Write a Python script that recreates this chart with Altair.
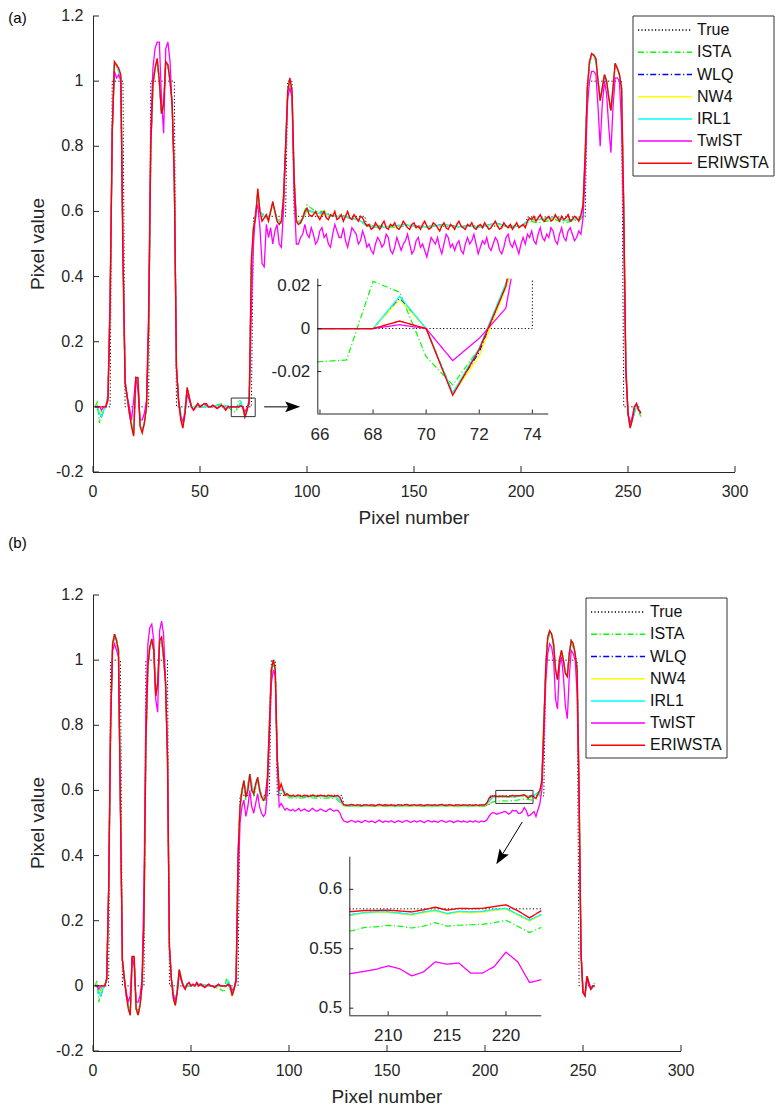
import altair as alt
import pandas as pd

FONT = "Liberation Sans"
AX = "#262626"

SERIES = ["True", "ISTA", "WLQ", "NW4", "IRL1", "TwIST", "ERIWSTA"]
COLORS = ["#000000", "#00ff00", "#0000ff", "#ffff00", "#00ffff", "#ff00ff", "#ff0000"]
DASHES = [[1.2, 2.2], [6, 2.5, 1.2, 2.5], [6, 2.5, 1.2, 2.5], [1, 0], [1, 0], [1, 0], [1, 0]]
WIDTHS = [1, 1.2, 1.2, 1.3, 1.3, 1.3, 1.4]

X_TICKS = [0, 50, 100, 150, 200, 250, 300]
X_TICK_LABELS = ["0", "50", "100", "150", "200", "250", "300"]
Y_TICKS = [-0.2, 0, 0.2, 0.4, 0.6, 0.8, 1, 1.2]
Y_TICK_LABELS = ["-0.2", "0", "0.2", "0.4", "0.6", "0.8", "1", "1.2"]
IA_XTICKS = [66, 68, 70, 72, 74]
IA_XLABELS = ["66", "68", "70", "72", "74"]
IA_YTICKS = [-0.02, 0, 0.02]
IA_YLABELS = ["-0.02", "0", "0.02"]
IB_XTICKS = [210, 215, 220]
IB_XLABELS = ["210", "215", "220"]
IB_YTICKS = [0.5, 0.55, 0.6]
IB_YLABELS = ["0.5", "0.55", "0.6"]
PANEL_LABELS = ["(a)", "(b)"]
X_TITLE = "Pixel number"
Y_TITLE = "Pixel value"

PIX = list(range(1, 257))
XS = [1, 2, 3, 4, 5, 6, 7, 8, 9, 10,
      11, 12, 13, 14, 15, 17, 19, 20, 21, 22,
      23, 24, 25, 26, 27, 28, 29, 30, 31, 32,
      33, 34, 35, 36, 37, 38, 39, 40, 42, 44,
      46, 50, 55, 60, 65, 66, 67, 68, 69, 70,
      71, 72, 73, 74, 75, 76, 77, 78, 80, 82,
      84, 86, 88, 89, 90, 91, 92, 93, 94, 95,
      97, 100, 104, 108, 112, 116, 120, 124, 128, 134,
      140, 146, 152, 158, 164, 170, 176, 182, 188, 194,
      200, 204, 208, 212, 216, 220, 224, 228, 229, 230,
      231, 232, 233, 234, 235, 236, 237, 238, 239, 240,
      241, 242, 243, 244, 245, 246, 247, 248, 249, 250,
      251, 252, 254, 256]

TRUE_X = [1, 8, 9, 14, 15, 26, 27, 38, 39, 74, 75, 90, 91, 93, 94, 127, 128, 202, 203, 230, 231, 247, 248, 256]
TRUE_Y = [0, 0, 1, 1, 0, 0, 1, 1, 0, 0, 0.585, 0.585, 1, 1, 0.585, 0.585, 0.555, 0.555, 0.583, 0.583, 1, 1, 0, 0]

# ---------------- panel (a) ----------------
ERIWSTA_A = [
    0, 0, 0, 0, 0, 0, 0.02, 0.30, 0.85, 1.06,
    1.05, 1.04, 1.02, 0.45, 0.07, 0.03, -0.02, -0.06, -0.09, 0.09,
    0.09, -0.06, -0.08, -0.05, 0.0, 0.25, 0.8, 0.99, 1.04, 1.07,
    1.0, 0.9, 0.93, 1.06, 1.05, 1.0, 0.93, 0.7, 0.12, 0.02,
    -0.04, -0.065, -0.02, 0.06, 0.03, 0.0, -0.01, 0.0, 0.01, 0.0,
    0.005, 0.01, 0.01, 0.0, 0.0, 0.005, 0.0, -0.005, 0.0, 0.005,
    0.0, -0.01, 0.0, 0.0, 0.0, 0.0, 0.0, 0.0, 0.0035, 0.0,
    -0.031, -0.0097, 0.0196, 0.45, 0.55, 0.58, 0.67, 0.6, 0.57, 0.58,
    0.59, 0.57, 0.6, 0.63, 0.6, 0.57, 0.56, 0.57, 0.64, 0.8,
    0.97, 1.01, 0.97, 0.7, 0.57, 0.56, 0.565, 0.58, 0.6, 0.61,
    0.59, 0.585, 0.59, 0.6, 0.585, 0.575, 0.59, 0.6, 0.58, 0.575,
    0.59, 0.585, 0.6, 0.575, 0.58, 0.59, 0.57, 0.585, 0.6, 0.58,
    0.575, 0.59, 0.58, 0.57, 0.585, 0.58, 0.565, 0.555, 0.56, 0.545,
    0.55, 0.565, 0.555, 0.545, 0.56, 0.57, 0.55, 0.545, 0.56, 0.555,
    0.565, 0.55, 0.545, 0.555, 0.57, 0.56, 0.55, 0.545, 0.56, 0.565,
    0.55, 0.555, 0.545, 0.56, 0.57, 0.555, 0.545, 0.55, 0.565, 0.56,
    0.55, 0.54, 0.555, 0.565, 0.55, 0.545, 0.56, 0.555, 0.545, 0.56,
    0.57, 0.555, 0.55, 0.545, 0.56, 0.555, 0.565, 0.55, 0.545, 0.555,
    0.56, 0.55, 0.565, 0.555, 0.545, 0.55, 0.56, 0.57, 0.555, 0.545,
    0.55, 0.565, 0.555, 0.55, 0.56, 0.545, 0.555, 0.565, 0.55, 0.555,
    0.56, 0.55, 0.57, 0.58, 0.575, 0.585, 0.57, 0.58, 0.59, 0.575,
    0.57, 0.58, 0.585, 0.57, 0.575, 0.59, 0.58, 0.57, 0.585, 0.575,
    0.58, 0.59, 0.57, 0.575, 0.585, 0.58, 0.57, 0.59, 0.62, 0.78,
    0.98, 1.06, 1.085, 1.08, 1.07, 1.0, 0.94, 0.98, 1.02, 1.0,
    0.95, 0.91, 0.98, 1.055, 1.04, 1.02, 0.98, 0.62, 0.12, -0.02,
    -0.065, -0.04, 0.0, 0.01, -0.01, -0.02]

TWIST_A = [
    0, 0, 0, -0.01, 0, 0, 0.03, 0.35, 0.85, 1.03,
    1.01, 1.02, 1.0, 0.5, 0.08, 0.03, 0.0, -0.04, 0.02, 0.09,
    0.05, -0.04, -0.04, -0.02, 0.02, 0.3, 0.85, 1.04, 1.1, 1.12,
    1.12, 0.95, 0.84, 1.1, 1.12, 1.06, 0.92, 0.7, 0.12, 0.02,
    -0.03, -0.045, -0.02, 0.04, 0.02, 0.0, -0.01, 0.0, 0.01, 0.0,
    0.005, 0.01, 0.005, 0.0, 0.0, 0.005, 0.0, -0.005, 0.0, 0.005,
    0.0, -0.01, 0.0, 0.0, 0.0, 0.0, 0.0, 0.0, 0.0018, 0.0,
    -0.0149, -0.0045, 0.0095, 0.3, 0.5, 0.6, 0.62, 0.55, 0.44, 0.43,
    0.56, 0.52, 0.55, 0.5, 0.54, 0.56, 0.5, 0.49, 0.6, 0.78,
    0.95, 0.98, 0.95, 0.65, 0.5, 0.5, 0.52, 0.53, 0.56, 0.53,
    0.52, 0.55, 0.53, 0.5, 0.51, 0.54, 0.55, 0.52, 0.53, 0.5,
    0.49, 0.53, 0.56, 0.54, 0.52, 0.52, 0.55, 0.51, 0.49, 0.52,
    0.55, 0.54, 0.53, 0.5, 0.51, 0.54, 0.52, 0.49, 0.5, 0.48,
    0.47, 0.5, 0.52, 0.51, 0.49, 0.5, 0.53, 0.52, 0.48, 0.47,
    0.49, 0.52, 0.5, 0.48, 0.5, 0.51, 0.53, 0.5, 0.47, 0.48,
    0.51, 0.52, 0.49, 0.5, 0.48, 0.46, 0.49, 0.52, 0.51, 0.5,
    0.52, 0.49, 0.47, 0.5, 0.53, 0.52, 0.49, 0.5, 0.48, 0.5,
    0.51, 0.48, 0.47, 0.5, 0.52, 0.5, 0.51, 0.53, 0.5, 0.47,
    0.49, 0.51, 0.5, 0.52, 0.49, 0.48, 0.5, 0.52, 0.51, 0.48,
    0.47, 0.49, 0.52, 0.53, 0.5, 0.49, 0.51, 0.49, 0.47, 0.5,
    0.52, 0.5, 0.53, 0.52, 0.54, 0.51, 0.5, 0.53, 0.55, 0.52,
    0.51, 0.53, 0.52, 0.55, 0.54, 0.51, 0.5, 0.53, 0.55, 0.52,
    0.51, 0.54, 0.55, 0.53, 0.51, 0.52, 0.54, 0.53, 0.58, 0.72,
    0.92, 1.0, 1.03, 1.03, 1.02, 0.92, 0.8, 0.93, 1.0, 0.96,
    0.86, 0.78, 0.92, 1.01, 1.01, 1.0, 0.86, 0.55, 0.1, -0.02,
    -0.05, -0.03, 0.0, 0.01, -0.01, -0.015]

ISTA_A = [
    0.0, 0.015, -0.05, -0.01, 0.0, 0.0, 0.04, 0.33, 0.83, 1.05,
    1.05, 1.03, 1.01, 0.5, 0.08, -0.02, -0.08, 0.09, 0.08, -0.05,
    -0.07, -0.05, 0.0, 0.22, 0.78, 0.99, 1.04, 1.06, 1.01, 0.9,
    0.92, 1.05, 1.05, 1.0, 0.93, 0.7, 0.12, 0.02, -0.06, 0.05,
    0.0, 0.005, 0.0, 0.01, -0.01, -0.0154, -0.015, 0.022, 0.0168, -0.014,
    -0.027, -0.009, 0.02, 0.42, 0.55, 0.6, 0.66, 0.6, 0.59, 0.58,
    0.62, 0.58, 0.57, 0.63, 0.79, 0.96, 1.0, 0.97, 0.7, 0.57,
    0.57, 0.62, 0.6, 0.6, 0.585, 0.59, 0.58, 0.575, 0.56, 0.555,
    0.55, 0.56, 0.55, 0.555, 0.56, 0.55, 0.555, 0.55, 0.565, 0.55,
    0.555, 0.57, 0.565, 0.57, 0.575, 0.565, 0.57, 0.575, 0.61, 0.77,
    0.97, 1.05, 1.08, 1.075, 1.06, 1.0, 0.94, 0.98, 1.01, 1.0,
    0.95, 0.91, 0.97, 1.05, 1.04, 1.02, 0.97, 0.6, 0.12, -0.01,
    -0.06, -0.04, 0.0, -0.03]

WLQ_A = [
    0.0, 0.0, -0.02, -0.03, -0.01, 0.0, 0.04, 0.33, 0.84, 1.05,
    1.05, 1.03, 1.01, 0.48, 0.08, -0.02, -0.085, 0.09, 0.085, -0.055,
    -0.075, -0.05, 0.0, 0.23, 0.79, 0.99, 1.04, 1.065, 1.0, 0.9,
    0.925, 1.055, 1.05, 1.0, 0.93, 0.7, 0.12, 0.02, -0.06, 0.055,
    0.0, 0.0, 0.0, 0.005, 0.0, 0.0, 0.0, 0.0, 0.014, 0.0,
    -0.03, -0.011, 0.02, 0.43, 0.55, 0.59, 0.66, 0.6, 0.585, 0.575,
    0.625, 0.575, 0.565, 0.64, 0.8, 0.97, 1.0, 0.97, 0.7, 0.57,
    0.565, 0.605, 0.595, 0.595, 0.585, 0.585, 0.58, 0.575, 0.555, 0.55,
    0.555, 0.56, 0.552, 0.553, 0.56, 0.553, 0.555, 0.552, 0.565, 0.553,
    0.555, 0.575, 0.575, 0.578, 0.582, 0.572, 0.575, 0.58, 0.615, 0.775,
    0.975, 1.055, 1.08, 1.08, 1.065, 1.0, 0.94, 0.98, 1.02, 1.0,
    0.95, 0.91, 0.975, 1.05, 1.04, 1.02, 0.975, 0.61, 0.12, -0.02,
    -0.062, -0.04, 0.005, -0.02]

NW4_A = [
    0.0, 0.0, -0.01, -0.02, -0.01, 0.0, 0.04, 0.33, 0.84, 1.05,
    1.05, 1.03, 1.01, 0.48, 0.08, -0.02, -0.085, 0.09, 0.085, -0.055,
    -0.075, -0.05, 0.0, 0.23, 0.79, 0.99, 1.04, 1.065, 1.0, 0.9,
    0.925, 1.055, 1.05, 1.0, 0.93, 0.7, 0.12, 0.02, -0.06, 0.055,
    0.0, 0.0, 0.0, 0.005, 0.0, 0.0, 0.0, 0.0, 0.0134, 0.0,
    -0.0305, -0.0127, 0.019, 0.42, 0.55, 0.59, 0.66, 0.6, 0.585, 0.575,
    0.62, 0.575, 0.565, 0.635, 0.8, 0.97, 1.0, 0.97, 0.7, 0.57,
    0.565, 0.6, 0.595, 0.59, 0.585, 0.585, 0.58, 0.575, 0.555, 0.55,
    0.553, 0.558, 0.552, 0.553, 0.558, 0.553, 0.555, 0.552, 0.562, 0.553,
    0.555, 0.574, 0.574, 0.577, 0.58, 0.571, 0.574, 0.579, 0.612, 0.775,
    0.975, 1.055, 1.08, 1.08, 1.065, 1.0, 0.94, 0.98, 1.02, 1.0,
    0.95, 0.91, 0.975, 1.05, 1.04, 1.02, 0.975, 0.61, 0.12, -0.02,
    -0.062, -0.04, 0.005, -0.02]

IRL1_A = [
    0.0, 0.0, -0.02, -0.03, -0.01, 0.0, 0.04, 0.33, 0.84, 1.05,
    1.05, 1.03, 1.01, 0.48, 0.08, -0.02, -0.085, 0.09, 0.085, -0.055,
    -0.075, -0.05, 0.0, 0.23, 0.79, 0.99, 1.04, 1.065, 1.0, 0.9,
    0.925, 1.055, 1.05, 1.0, 0.93, 0.7, 0.12, 0.02, -0.06, 0.055,
    0.0, 0.0, 0.0, 0.005, 0.0, 0.0, 0.0, 0.0, 0.015, 0.0,
    -0.03, -0.009, 0.022, 0.43, 0.55, 0.59, 0.66, 0.6, 0.585, 0.575,
    0.625, 0.575, 0.565, 0.64, 0.8, 0.97, 1.0, 0.97, 0.7, 0.57,
    0.565, 0.605, 0.595, 0.595, 0.585, 0.585, 0.58, 0.575, 0.555, 0.55,
    0.555, 0.56, 0.552, 0.553, 0.56, 0.553, 0.555, 0.552, 0.565, 0.553,
    0.555, 0.575, 0.575, 0.578, 0.582, 0.572, 0.575, 0.58, 0.615, 0.775,
    0.975, 1.055, 1.08, 1.08, 1.065, 1.0, 0.94, 0.98, 1.02, 1.0,
    0.95, 0.91, 0.975, 1.05, 1.04, 1.02, 0.975, 0.61, 0.12, -0.02,
    -0.062, -0.04, 0.005, -0.02]

# inset (a) readings
IA_TRUE_X = [65.9, 74, 74]
IA_TRUE_Y = [0, 0, 0.0232]
IA_ISTA_X = [65.9, 67, 68, 69, 70, 71, 72, 73, 73.12]
IA_ISTA_Y = [-0.0155, -0.0146, 0.022, 0.0169, -0.0131, -0.0262, -0.0092, 0.0192, 0.0232]
IA_WLQ_X = [65.9, 68, 69, 70, 71, 72, 73, 73.1]
IA_WLQ_Y = [0, 0, 0.014, 0, -0.03, -0.011, 0.02, 0.0232]
IA_NW4_X = [65.9, 68, 69, 70, 71, 72, 73, 73.12]
IA_NW4_Y = [0, 0, 0.0134, 0, -0.0305, -0.0127, 0.019, 0.0232]
IA_IRL1_X = [65.9, 68, 69, 70, 71, 72, 73, 73.08]
IA_IRL1_Y = [0, 0, 0.015, 0, -0.03, -0.009, 0.021, 0.0232]
IA_TWIST_X = [65.9, 68, 69, 70, 71, 72, 73, 73.2]
IA_TWIST_Y = [0, 0, 0.0018, 0, -0.0149, -0.0045, 0.0095, 0.0232]
IA_ERIWSTA_X = [65.9, 68, 69, 70, 71, 72, 73, 73.05]
IA_ERIWSTA_Y = [0, 0, 0.0035, 0, -0.031, -0.0097, 0.0196, 0.0232]

# ---------------- panel (b) ----------------
ERIWSTA_B = [
    0, 0, 0, 0, 0, 0, 0.02, 0.3, 0.8, 1.05,
    1.08, 1.06, 1.03, 0.55, 0.08, 0.02, -0.03, -0.07, -0.09, 0.09,
    0.09, -0.07, -0.09, -0.06, 0.0, 0.2, 0.75, 0.98, 1.04, 1.065,
    1.03, 0.89, 0.93, 1.06, 1.07, 1.01, 0.93, 0.7, 0.12, 0.02,
    -0.04, -0.06, -0.02, 0.05, 0.02, 0.0, -0.01, 0.005, 0.01, 0.0,
    0.005, 0.0, 0.01, 0.0, 0.005, 0.0, -0.005, 0.0, 0.005, 0.0,
    0.0, -0.005, 0.0, 0.005, 0.0, 0.0, 0.0, 0.0, 0.005, 0.0,
    -0.03, -0.01, 0.02, 0.4, 0.55, 0.6, 0.63, 0.58, 0.6, 0.65,
    0.6, 0.59, 0.62, 0.64, 0.6, 0.58, 0.57, 0.58, 0.64, 0.8,
    0.97, 1.0, 0.97, 0.7, 0.6, 0.62, 0.6, 0.585, 0.59, 0.585,
    0.583, 0.585, 0.582, 0.584, 0.586, 0.582, 0.583, 0.585, 0.584, 0.582,
    0.583, 0.586, 0.584, 0.582, 0.583, 0.585, 0.584, 0.583, 0.582, 0.585,
    0.584, 0.583, 0.582, 0.584, 0.583, 0.578, 0.565, 0.556, 0.555, 0.554,
    0.556, 0.557, 0.555, 0.554, 0.556, 0.555, 0.553, 0.555, 0.556, 0.555,
    0.554, 0.556, 0.555, 0.553, 0.555, 0.557, 0.555, 0.554, 0.556, 0.555,
    0.554, 0.556, 0.555, 0.553, 0.555, 0.556, 0.555, 0.554, 0.556, 0.557,
    0.555, 0.554, 0.555, 0.556, 0.554, 0.555, 0.556, 0.555, 0.553, 0.555,
    0.556, 0.555, 0.554, 0.556, 0.555, 0.554, 0.556, 0.557, 0.555, 0.554,
    0.555, 0.556, 0.555, 0.553, 0.555, 0.556, 0.555, 0.554, 0.556, 0.555,
    0.554, 0.556, 0.555, 0.554, 0.556, 0.555, 0.554, 0.556, 0.555, 0.556,
    0.562, 0.575, 0.583, 0.582, 0.584, 0.582, 0.5814, 0.5822, 0.5823, 0.5825,
    0.5818, 0.581, 0.5828, 0.585, 0.5825, 0.584, 0.5838, 0.584, 0.5855, 0.587,
    0.582, 0.576, 0.582, 0.585, 0.58, 0.575, 0.59, 0.6, 0.63, 0.8,
    0.98, 1.07, 1.09, 1.08, 1.05, 0.97, 0.94, 1.0, 1.03, 1.0,
    0.96, 0.95, 1.02, 1.06, 1.05, 1.02, 0.97, 0.6, 0.1, -0.02,
    -0.03, 0.03, 0.01, -0.01, 0.0, 0.0]

TWIST_B = [
    0, 0, -0.01, 0, 0, 0, 0.02, 0.3, 0.82, 1.03,
    1.05, 1.03, 1.01, 0.55, 0.08, 0.02, -0.02, -0.05, -0.03, 0.09,
    0.06, -0.05, -0.05, -0.03, 0.02, 0.3, 0.85, 1.05, 1.1, 1.11,
    1.06, 0.88, 0.84, 1.09, 1.12, 1.08, 0.94, 0.72, 0.12, 0.02,
    -0.03, -0.045, -0.02, 0.04, 0.02, 0.0, -0.01, 0.005, 0.01, 0.0,
    0.005, 0.0, 0.01, 0.0, 0.005, 0.0, -0.005, 0.0, 0.005, 0.0,
    0.0, -0.005, 0.0, 0.005, 0.0, 0.0, 0.0, 0.0, 0.003, 0.0,
    -0.015, -0.005, 0.01, 0.3, 0.5, 0.55, 0.57, 0.52, 0.55, 0.6,
    0.55, 0.53, 0.56, 0.59, 0.55, 0.53, 0.52, 0.53, 0.6, 0.76,
    0.93, 0.97, 0.95, 0.68, 0.55, 0.56, 0.55, 0.54, 0.545, 0.54,
    0.538, 0.542, 0.536, 0.54, 0.545, 0.537, 0.54, 0.543, 0.538, 0.535,
    0.54, 0.545, 0.54, 0.536, 0.538, 0.543, 0.54, 0.537, 0.535, 0.541,
    0.544, 0.539, 0.536, 0.54, 0.538, 0.53, 0.515, 0.506, 0.504, 0.502,
    0.506, 0.508, 0.505, 0.502, 0.506, 0.504, 0.501, 0.505, 0.508, 0.505,
    0.503, 0.506, 0.504, 0.501, 0.505, 0.509, 0.505, 0.502, 0.506, 0.505,
    0.503, 0.507, 0.504, 0.501, 0.505, 0.507, 0.504, 0.502, 0.506, 0.508,
    0.505, 0.502, 0.504, 0.507, 0.503, 0.505, 0.507, 0.504, 0.501, 0.505,
    0.508, 0.505, 0.503, 0.506, 0.504, 0.502, 0.506, 0.508, 0.505, 0.502,
    0.504, 0.507, 0.505, 0.501, 0.504, 0.507, 0.505, 0.503, 0.506, 0.504,
    0.502, 0.506, 0.505, 0.503, 0.507, 0.504, 0.502, 0.506, 0.504, 0.505,
    0.51, 0.52, 0.528, 0.532, 0.53, 0.527, 0.5294, 0.531, 0.5328, 0.5356,
    0.533, 0.5272, 0.5305, 0.539, 0.537, 0.538, 0.5295, 0.5295, 0.535, 0.5472,
    0.539, 0.5216, 0.524, 0.53, 0.535, 0.52, 0.54, 0.56, 0.6, 0.75,
    0.93, 1.02, 1.05, 1.04, 1.0, 0.88, 0.85, 0.98, 1.01, 0.95,
    0.86, 0.82, 0.95, 1.03, 1.02, 1.0, 0.9, 0.55, 0.1, -0.02,
    -0.03, 0.02, 0.0, -0.01, 0.0, 0.0]

ISTA_B = [
    0.0, 0.015, -0.05, -0.01, 0.0, 0.0, 0.03, 0.3, 0.8, 1.04,
    1.07, 1.05, 1.02, 0.55, 0.08, -0.03, -0.08, 0.09, 0.08, -0.06,
    -0.08, -0.05, 0.0, 0.2, 0.75, 0.98, 1.04, 1.06, 1.02, 0.89,
    0.93, 1.05, 1.06, 1.0, 0.93, 0.7, 0.12, 0.02, -0.055, 0.05,
    0.0, 0.0, 0.005, 0.0, -0.01, -0.015, -0.015, 0.02, 0.015, -0.013,
    -0.027, -0.01, 0.02, 0.4, 0.54, 0.59, 0.62, 0.57, 0.64, 0.58,
    0.63, 0.57, 0.57, 0.63, 0.79, 0.96, 0.99, 0.96, 0.7, 0.59,
    0.59, 0.578, 0.576, 0.578, 0.577, 0.576, 0.577, 0.575, 0.552, 0.55,
    0.551, 0.552, 0.55, 0.551, 0.552, 0.55, 0.551, 0.552, 0.55, 0.551,
    0.551, 0.565, 0.568, 0.5675, 0.5698, 0.574, 0.57, 0.59, 0.62, 0.79,
    0.97, 1.06, 1.08, 1.07, 1.04, 0.97, 0.94, 0.99, 1.02, 1.0,
    0.96, 0.95, 1.01, 1.05, 1.04, 1.01, 0.96, 0.6, 0.1, -0.02,
    -0.03, 0.02, -0.01, 0.01]

WLQ_B = [
    0.0, 0.0, -0.02, -0.03, -0.01, 0.0, 0.02, 0.3, 0.8, 1.05,
    1.08, 1.06, 1.03, 0.55, 0.08, -0.03, -0.09, 0.09, 0.09, -0.07,
    -0.09, -0.06, 0.0, 0.2, 0.75, 0.98, 1.04, 1.065, 1.03, 0.89,
    0.93, 1.06, 1.07, 1.01, 0.93, 0.7, 0.12, 0.02, -0.06, 0.05,
    0.0, 0.0, 0.005, 0.0, 0.0, 0.0, 0.0, 0.0, 0.014, 0.0,
    -0.03, -0.011, 0.021, 0.4, 0.55, 0.6, 0.63, 0.58, 0.65, 0.59,
    0.64, 0.58, 0.58, 0.64, 0.8, 0.97, 1.0, 0.97, 0.7, 0.6,
    0.6, 0.5815, 0.5805, 0.5815, 0.5805, 0.5815, 0.5805, 0.5795, 0.5535, 0.5525,
    0.5525, 0.5535, 0.5525, 0.5525, 0.5535, 0.5525, 0.5525, 0.5535, 0.5525, 0.5525,
    0.5535, 0.58, 0.5803, 0.5787, 0.5812, 0.5837, 0.5795, 0.5975, 0.6275, 0.8,
    0.98, 1.07, 1.09, 1.08, 1.05, 0.97, 0.94, 1.0, 1.03, 1.0,
    0.96, 0.95, 1.02, 1.06, 1.05, 1.02, 0.97, 0.6, 0.1, -0.02,
    -0.03, 0.03, -0.01, 0.0]

NW4_B = [
    0.0, 0.0, -0.01, -0.02, -0.01, 0.0, 0.02, 0.3, 0.8, 1.05,
    1.08, 1.06, 1.03, 0.55, 0.08, -0.03, -0.09, 0.09, 0.09, -0.07,
    -0.09, -0.06, 0.0, 0.2, 0.75, 0.98, 1.04, 1.065, 1.03, 0.89,
    0.93, 1.06, 1.07, 1.01, 0.93, 0.7, 0.12, 0.02, -0.06, 0.05,
    0.0, 0.0, 0.005, 0.0, 0.0, 0.0, 0.0, 0.0, 0.013, 0.0,
    -0.03, -0.013, 0.02, 0.4, 0.55, 0.6, 0.63, 0.58, 0.65, 0.59,
    0.64, 0.58, 0.58, 0.64, 0.8, 0.97, 1.0, 0.97, 0.7, 0.6,
    0.6, 0.581, 0.58, 0.581, 0.58, 0.581, 0.58, 0.579, 0.553, 0.552,
    0.552, 0.553, 0.552, 0.552, 0.553, 0.552, 0.552, 0.553, 0.552, 0.552,
    0.553, 0.5795, 0.58, 0.5783, 0.5808, 0.5833, 0.579, 0.597, 0.627, 0.8,
    0.98, 1.07, 1.09, 1.08, 1.05, 0.97, 0.94, 1.0, 1.03, 1.0,
    0.96, 0.95, 1.02, 1.06, 1.05, 1.02, 0.97, 0.6, 0.1, -0.02,
    -0.03, 0.03, -0.01, 0.0]

IRL1_B = [
    0.0, 0.0, -0.02, -0.03, -0.01, 0.0, 0.02, 0.3, 0.8, 1.05,
    1.08, 1.06, 1.03, 0.55, 0.08, -0.03, -0.09, 0.09, 0.09, -0.07,
    -0.09, -0.06, 0.0, 0.2, 0.75, 0.98, 1.04, 1.065, 1.03, 0.89,
    0.93, 1.06, 1.07, 1.01, 0.93, 0.7, 0.12, 0.02, -0.06, 0.05,
    0.0, 0.0, 0.005, 0.0, 0.0, 0.0, 0.0, 0.0, 0.015, 0.0,
    -0.03, -0.009, 0.022, 0.4, 0.55, 0.6, 0.63, 0.58, 0.65, 0.59,
    0.64, 0.58, 0.58, 0.64, 0.8, 0.97, 1.0, 0.97, 0.7, 0.6,
    0.6, 0.582, 0.581, 0.582, 0.581, 0.582, 0.581, 0.58, 0.554, 0.553,
    0.553, 0.554, 0.553, 0.553, 0.554, 0.553, 0.553, 0.554, 0.553, 0.553,
    0.554, 0.58, 0.5805, 0.579, 0.5815, 0.584, 0.58, 0.598, 0.628, 0.8,
    0.98, 1.07, 1.09, 1.08, 1.05, 0.97, 0.94, 1.0, 1.03, 1.0,
    0.96, 0.95, 1.02, 1.06, 1.05, 1.02, 0.97, 0.6, 0.1, -0.02,
    -0.03, 0.03, -0.01, 0.0]

# inset (b) readings
IB_X = [206.7, 207, 208, 209, 210, 211, 212, 213, 214, 215, 216, 217, 218, 219, 220, 221, 222, 223]
IB_TRUE_X = [206.7, 223]
IB_TRUE_Y = [0.5836, 0.5836]
IB_ISTA = [0.565, 0.5653, 0.568, 0.5685, 0.5697, 0.569, 0.5675, 0.569, 0.572, 0.569, 0.5698, 0.5702, 0.5706, 0.572, 0.574, 0.569, 0.5636, 0.568]
IB_WLQ = [0.5783, 0.5788, 0.5803, 0.5808, 0.5808, 0.5798, 0.5787, 0.5807, 0.5822, 0.5794, 0.5812, 0.5807, 0.5812, 0.5827, 0.5837, 0.5787, 0.5737, 0.5787]
IB_NW4 = [0.578, 0.5785, 0.58, 0.5805, 0.5805, 0.5795, 0.5783, 0.5803, 0.5818, 0.579, 0.5808, 0.5803, 0.5808, 0.5823, 0.5833, 0.5783, 0.5733, 0.5783]
IB_IRL1 = [0.5785, 0.579, 0.5805, 0.581, 0.581, 0.58, 0.579, 0.581, 0.5825, 0.5797, 0.5815, 0.581, 0.5815, 0.583, 0.584, 0.579, 0.574, 0.579]
IB_TWIST = [0.529, 0.5294, 0.531, 0.5328, 0.5356, 0.533, 0.5272, 0.5305, 0.539, 0.537, 0.538, 0.5295, 0.5295, 0.535, 0.5472, 0.539, 0.5216, 0.524]
IB_ERIWSTA = [0.5813, 0.5814, 0.5822, 0.5823, 0.5825, 0.5818, 0.581, 0.5828, 0.585, 0.5825, 0.584, 0.5838, 0.584, 0.5855, 0.587, 0.582, 0.576, 0.582]

# zoom boxes and arrows (data coordinates)
RECT_A = {"x0": [64.6], "x1": [75.8], "y0": [-0.03], "y1": [0.027]}
RECT_B = {"x0": [205.5], "x1": [224.5], "y0": [0.56], "y1": [0.6]}
ARROW_A = {"x0": [80.0], "y0": [0.0], "x1": [93.3], "y1": [0.0]}
ARROW_B = {"x0": [219.0], "y0": [0.503], "x1": [207.8], "y1": [0.393]}
HEAD = "M1,0L-1,-0.73L-0.6,0L-1,0.73Z"


def frame(items):
    rows = []
    for name, xs, ys in items:
        for xv, yv in zip(xs, ys):
            rows.append({"series": name, "x": xv, "y": yv})
    return pd.DataFrame(rows)


ONE = pd.DataFrame({"k": [0]})


def hline(x0, x1, y, color=AX, width=1, dash=None):
    kw = {} if dash is None else {"strokeDash": dash}
    return alt.Chart(ONE).mark_rule(color=color, strokeWidth=width, **kw).encode(
        x=alt.value(x0), x2=alt.value(x1), y=alt.value(y))


def vline(x, y0, y1):
    return alt.Chart(ONE).mark_rule(color=AX, strokeWidth=1).encode(
        x=alt.value(x), y=alt.value(y0), y2=alt.value(y1))


def series_layers(items, xs_scale, ys_scale):
    out = []
    for name, xs, ys in items:
        k = SERIES.index(name)
        out.append(
            alt.Chart(frame([(name, xs, ys)])).mark_line(
                strokeWidth=WIDTHS[k], color=COLORS[k], strokeDash=DASHES[k]).encode(
                x=alt.X("x:Q", scale=xs_scale, axis=None),
                y=alt.Y("y:Q", scale=ys_scale, axis=None)))
    return out


def panel(label, W, H, main_items, inset_items, in_dx, in_dy, in_rx, in_ry,
          in_xt, in_xl, in_yt, in_yl, rect, arrow, head_angle, lx, ly, label_y):
    xm = alt.Scale(domain=[0, 300], nice=False, zero=False)
    ym = alt.Scale(domain=[-0.2, 1.2], nice=False, zero=False)

    lines = series_layers(main_items, xm, ym)
    xt = alt.Chart(pd.DataFrame({"v": X_TICKS})).mark_rule(color=AX, strokeWidth=1).encode(
        x=alt.X("v:Q", scale=xm, axis=None), y=alt.value(H), y2=alt.value(H - 6))
    yt = alt.Chart(pd.DataFrame({"v": Y_TICKS})).mark_rule(color=AX, strokeWidth=1).encode(
        y=alt.Y("v:Q", scale=ym, axis=None), x=alt.value(0), x2=alt.value(6))
    xl = alt.Chart(pd.DataFrame({"v": X_TICKS, "t": X_TICK_LABELS})).mark_text(
        font=FONT, fontSize=16, color=AX, align="center", baseline="middle").encode(
        x=alt.X("v:Q", scale=xm, axis=None), y=alt.value(H + 20), text="t:N")
    yl = alt.Chart(pd.DataFrame({"v": Y_TICKS, "t": Y_TICK_LABELS})).mark_text(
        font=FONT, fontSize=16, color=AX, align="right", baseline="middle").encode(
        y=alt.Y("v:Q", scale=ym, axis=None), x=alt.value(-9.5), text="t:N")
    xtitle = alt.Chart(pd.DataFrame({"t": [X_TITLE]})).mark_text(
        font=FONT, fontSize=19, color=AX, align="center", baseline="middle").encode(
        x=alt.value(W / 2), y=alt.value(H + 46), text="t:N")
    ytitle = alt.Chart(pd.DataFrame({"t": [Y_TITLE]})).mark_text(
        font=FONT, fontSize=19, color=AX, align="center", baseline="middle", angle=270).encode(
        x=alt.value(-54.7), y=alt.value(H / 2), text="t:N")
    box = alt.Chart(pd.DataFrame(rect)).mark_rect(fillOpacity=0, stroke="#333333", strokeWidth=1).encode(
        x=alt.X("x0:Q", scale=xm, axis=None), x2="x1:Q",
        y=alt.Y("y0:Q", scale=ym, axis=None), y2="y1:Q")
    shaft = alt.Chart(pd.DataFrame(arrow)).mark_rule(color="black", strokeWidth=1).encode(
        x=alt.X("x0:Q", scale=xm, axis=None), x2="x1:Q",
        y=alt.Y("y0:Q", scale=ym, axis=None), y2="y1:Q")
    head = alt.Chart(pd.DataFrame(arrow)).mark_point(
        shape=HEAD, filled=True, color="black", opacity=1, size=225, angle=head_angle).encode(
        x=alt.X("x1:Q", scale=xm, axis=None), y=alt.Y("y1:Q", scale=ym, axis=None))
    txt = alt.Chart(pd.DataFrame({"t": [label]})).mark_text(
        align="left", baseline="middle", fontSize=15, font=FONT, color="black").encode(
        x=alt.value(-84.7), y=alt.value(label_y), text="t:N")

    # legend drawn with marks
    lw, lh, row = 141, 160, 22.2
    rows_y = [ly + 3 + row / 2 + row * i for i in range(len(SERIES))]
    leg_df = pd.DataFrame({"series": SERIES, "ly": rows_y})
    leg_box = alt.Chart(ONE).mark_rect(fill="white", stroke="#333333", strokeWidth=1).encode(
        x=alt.value(lx), x2=alt.value(lx + lw), y=alt.value(ly), y2=alt.value(ly + lh))
    leg_sym = [hline(lx + 5, lx + 59, rows_y[k], COLORS[k], 1.5, DASHES[k]) for k in range(len(SERIES))]
    leg_txt = alt.Chart(leg_df).mark_text(
        font=FONT, fontSize=16, color="#111111", align="left", baseline="middle").encode(
        x=alt.value(lx + 64), y=alt.Y("ly:Q", scale=None, axis=None), text="series:N")

    main = alt.layer(*lines, box, shaft, head, xt, yt, hline(0, W, H + 0.5), vline(0.5, 0, H),
                     xl, yl, xtitle, ytitle, txt, leg_box, *leg_sym, leg_txt)

    xi = alt.Scale(domain=in_dx, range=in_rx, nice=False, zero=False)
    yi = alt.Scale(domain=in_dy, range=in_ry, nice=False, zero=False)
    ilayers = series_layers(inset_items, xi, yi)
    ixt = alt.Chart(pd.DataFrame({"v": in_xt})).mark_rule(color=AX, strokeWidth=1).encode(
        x=alt.X("v:Q", scale=xi, axis=None), y=alt.value(in_ry[0]), y2=alt.value(in_ry[0] - 4))
    iyt = alt.Chart(pd.DataFrame({"v": in_yt})).mark_rule(color=AX, strokeWidth=1).encode(
        y=alt.Y("v:Q", scale=yi, axis=None), x=alt.value(in_rx[0]), x2=alt.value(in_rx[0] + 4))
    ixl = alt.Chart(pd.DataFrame({"v": in_xt, "t": in_xl})).mark_text(
        font=FONT, fontSize=17, color=AX, align="center", baseline="middle").encode(
        x=alt.X("v:Q", scale=xi, axis=None), y=alt.value(in_ry[0] + 21), text="t:N")
    iyl = alt.Chart(pd.DataFrame({"v": in_yt, "t": in_yl})).mark_text(
        font=FONT, fontSize=17, color=AX, align="right", baseline="middle").encode(
        y=alt.Y("v:Q", scale=yi, axis=None), x=alt.value(in_rx[0] - 7), text="t:N")
    inset = alt.layer(*ilayers, ixt, iyt, ixl, iyl,
                      hline(in_rx[0], in_rx[1], in_ry[0] + 0.5),
                      vline(in_rx[0] + 0.5, in_ry[1], in_ry[0]))

    return alt.layer(main, inset).resolve_scale(x="independent", y="independent").properties(
        width=W, height=H)


H = 456
main_a = [("True", TRUE_X, TRUE_Y), ("ISTA", XS, ISTA_A), ("WLQ", XS, WLQ_A), ("NW4", XS, NW4_A),
          ("IRL1", XS, IRL1_A), ("TwIST", PIX, TWIST_A), ("ERIWSTA", PIX, ERIWSTA_A)]
inset_a = [("True", IA_TRUE_X, IA_TRUE_Y), ("ISTA", IA_ISTA_X, IA_ISTA_Y), ("WLQ", IA_WLQ_X, IA_WLQ_Y),
           ("NW4", IA_NW4_X, IA_NW4_Y), ("IRL1", IA_IRL1_X, IA_IRL1_Y),
           ("TwIST", IA_TWIST_X, IA_TWIST_Y), ("ERIWSTA", IA_ERIWSTA_X, IA_ERIWSTA_Y)]
main_b = [("True", TRUE_X, TRUE_Y), ("ISTA", XS, ISTA_B), ("WLQ", XS, WLQ_B), ("NW4", XS, NW4_B),
          ("IRL1", XS, IRL1_B), ("TwIST", PIX, TWIST_B), ("ERIWSTA", PIX, ERIWSTA_B)]
inset_b = [("True", IB_TRUE_X, IB_TRUE_Y), ("ISTA", IB_X, IB_ISTA), ("WLQ", IB_X, IB_WLQ),
           ("NW4", IB_X, IB_NW4), ("IRL1", IB_X, IB_IRL1), ("TwIST", IB_X, IB_TWIST),
           ("ERIWSTA", IB_X, IB_ERIWSTA)]

pa = panel(PANEL_LABELS[0], 642, H, main_a, inset_a, [65.9, 74.6], [-0.0395, 0.0232],
           [224.3, 455.3], [397.5, 262.7], IA_XTICKS, IA_XLABELS, IA_YTICKS, IA_YLABELS,
           RECT_A, ARROW_A, 0, 540, 0, 2)
pb = panel(PANEL_LABELS[1], 588, H, main_b, inset_b, [206.7, 223.0], [0.494, 0.6275],
           [256.3, 448.3], [420.3, 261.7], IB_XTICKS, IB_XLABELS, IB_YTICKS, IB_YLABELS,
           RECT_B, ARROW_B, 122, 493, 3, -52)

chart = alt.vconcat(pa, pb, spacing=8).properties(
    padding={"left": 0, "top": 0, "right": 0, "bottom": 0}
).configure_view(stroke=None)

chart.save("out.html", embed_options={"renderer": "svg", "actions": False})
